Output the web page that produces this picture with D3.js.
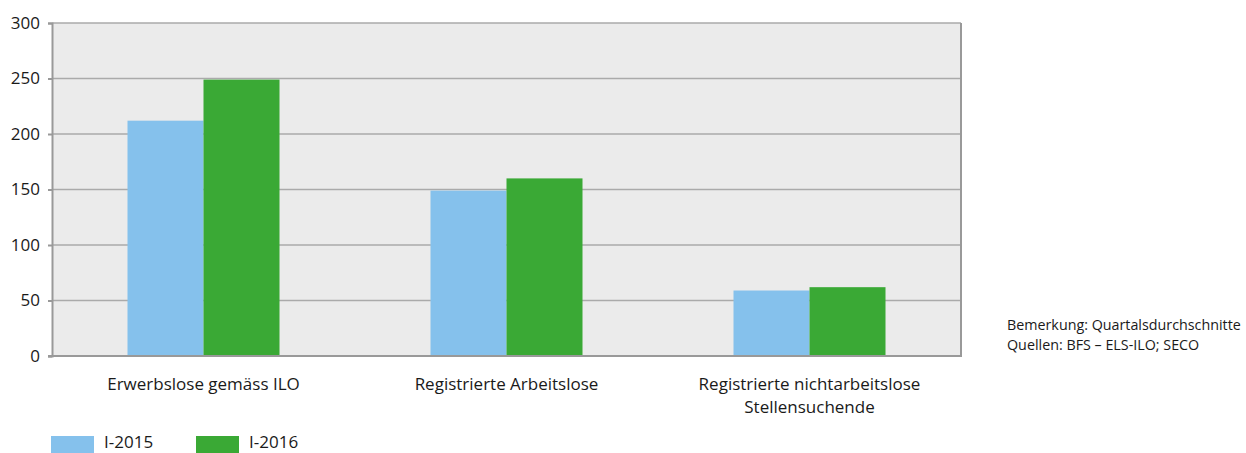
<!DOCTYPE html>
<html>
<head>
<meta charset="utf-8">
<script src="https://cdn.jsdelivr.net/npm/d3@7"></script>
<style>
  html, body { margin: 0; padding: 0; background: #fff; }
  svg { display: block; }
  text { font-family: "Open Sans", "Noto Sans", sans-serif; fill: #1a1a1a; }
</style>
</head>
<body>
<svg id="chart" width="1246" height="453"></svg>
<script>
// Categories and series values (in thousands)
const categories = [
  ["Erwerbslose gemäss ILO"],
  ["Registrierte Arbeitslose"],
  ["Registrierte nichtarbeitslose", "Stellensuchende"]
];
const seriesNames = ["I-2015", "I-2016"];
const values2015 = [212, 149, 59];
const values2016 = [249, 160, 62];
const yTicks = [0, 50, 100, 150, 200, 250, 300];
const notes = ["Bemerkung: Quartalsdurchschnitte", "Quellen: BFS – ELS-ILO; SECO"];

const colors = ["#85c1ec", "#3aa935"];

const svg = d3.select("#chart");
const plot = { left: 52, right: 961, top: 23, bottom: 356 };

const x0 = d3.scaleBand()
  .domain(d3.range(categories.length))
  .range([plot.left, plot.right])
  .paddingInner(0)
  .paddingOuter(0);

const barW = 76;
const y = d3.scaleLinear().domain([0, 300]).range([plot.bottom, plot.top]);

// plot background
svg.append("rect")
  .attr("x", plot.left).attr("y", plot.top)
  .attr("width", plot.right - plot.left).attr("height", plot.bottom - plot.top)
  .attr("fill", "#ebebeb");

// gridlines
svg.append("g").selectAll("line")
  .data(yTicks.filter(t => t > 0))
  .join("line")
  .attr("x1", plot.left).attr("x2", plot.right)
  .attr("y1", d => y(d)).attr("y2", d => y(d))
  .attr("stroke", "#aaaaaa").attr("stroke-width", 1.5);

// bars
const series = [values2015, values2016];
series.forEach((vals, si) => {
  svg.append("g").selectAll("rect")
    .data(vals)
    .join("rect")
    .attr("x", (d, i) => x0(i) + x0.bandwidth() / 2 - barW + si * barW)
    .attr("y", d => y(d))
    .attr("width", barW)
    .attr("height", d => y(0) - y(d))
    .attr("fill", colors[si]);
});

// y axis
const yAxis = d3.axisLeft(y).tickValues(yTicks).tickSize(4).tickPadding(8);
const gy = svg.append("g").attr("transform", `translate(${plot.left},0)`).call(yAxis);
gy.select(".domain").attr("stroke", "#999").attr("stroke-width", 2);
gy.selectAll(".tick line").attr("stroke", "#999").attr("stroke-width", 2);
gy.selectAll(".tick text").attr("font-size", 17).style("font-family", "'Open Sans', sans-serif").attr("fill", "#1a1a1a");

// bottom and right frame
svg.append("line")
  .attr("x1", plot.left - 4).attr("x2", plot.right + 1)
  .attr("y1", plot.bottom).attr("y2", plot.bottom)
  .attr("stroke", "#999").attr("stroke-width", 2);
svg.append("line")
  .attr("x1", plot.right).attr("x2", plot.right)
  .attr("y1", plot.top).attr("y2", plot.bottom)
  .attr("stroke", "#999").attr("stroke-width", 2);

// category labels
const catG = svg.append("g");
categories.forEach((lines, i) => {
  const t = catG.append("text")
    .attr("x", x0(i) + x0.bandwidth() / 2)
    .attr("y", 390)
    .attr("text-anchor", "middle")
    .attr("font-size", 17);
  lines.forEach((ln, j) => {
    t.append("tspan").attr("x", x0(i) + x0.bandwidth() / 2).attr("dy", j === 0 ? 0 : 23).text(ln);
  });
});

// legend
const legend = svg.append("g");
const legendX = [51, 196];
seriesNames.forEach((name, i) => {
  legend.append("rect")
    .attr("x", legendX[i]).attr("y", 436)
    .attr("width", 43).attr("height", 17)
    .attr("fill", colors[i]);
  legend.append("text")
    .attr("x", legendX[i] + 53).attr("y", 448)
    .attr("font-size", 17)
    .text(name);
});

// notes
svg.append("g").selectAll("text")
  .data(notes)
  .join("text")
  .attr("x", 1007)
  .attr("y", (d, i) => 330 + i * 20)
  .attr("font-size", 14.3)
  .text(d => d);
</script>
</body>
</html>
